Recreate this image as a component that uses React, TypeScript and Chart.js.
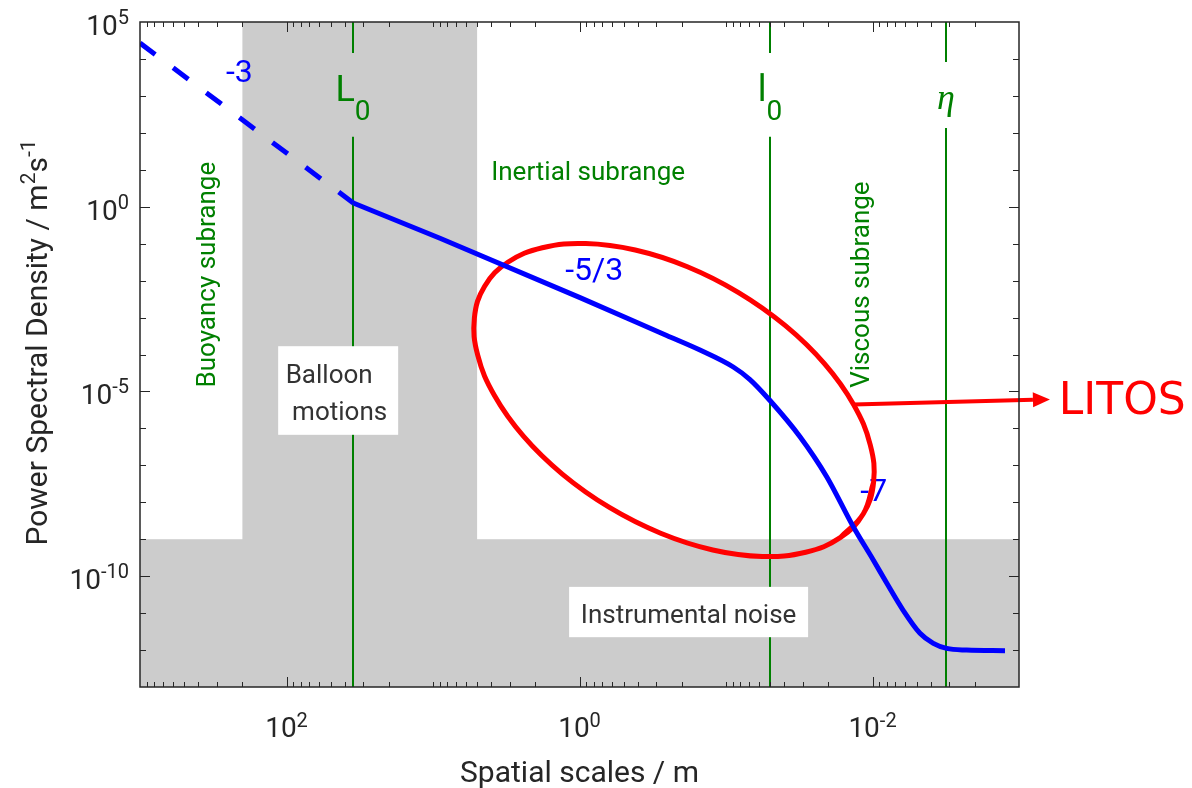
import React, { useEffect, useRef } from 'react';
import { Chart, registerables } from 'chart.js';

Chart.register(...registerables);

// ---------------- data ----------------
// spatial scale (m) / power spectral density (m^2 s^-1)
const dashedScales = [1000, 35];
const dashedPsd = [2.7e4, 1.26];

const spectrumScales = [35, 8.96, 0.992, 0.254, 0.1505, 0.0892, 0.0686, 0.0501, 0.03126, 0.02054, 0.01352, 0.00988, 0.008, 0.00619, 0.00474, 0.003846, 0.003115, 0.002275, 0.001246];
const spectrumPsd = [1.26, 0.1397, 3.47e-3, 3.27e-4, 1.32e-4, 4.59e-5, 2.1e-5, 5.69e-6, 5.96e-7, 4.92e-8, 2.18e-9, 2.74e-10, 6.53e-11, 1.21e-11, 2.84e-12, 1.52e-12, 1.11e-12, 1.0e-12, 9.6e-13];

// LITOS outline (closed loop; first/last points overlap so the loop closes smoothly)
const litosScales = [0.009826, 0.011548, 0.016617, 0.02858, 0.05656, 0.1231, 0.2794, 0.625, 1.304, 2.415, 3.806, 4.952, 5.218, 4.441, 3.086, 1.794, 0.9062, 0.4164, 0.1835, 0.08204, 0.03932, 0.02122, 0.01347, 0.01036, 0.009826, 0.011548, 0.016617];
const litosPsd = [3.52e-8, 4.89e-9, 1.1e-9, 4.44e-10, 3.42e-10, 5.12e-10, 1.45e-9, 7.23e-9, 5.69e-8, 6.14e-7, 7.73e-6, 9.55e-5, 9.77e-4, 7.05e-3, 0.03133, 0.07762, 0.1007, 0.0673, 0.02377, 4.76e-3, 6.05e-4, 5.6e-5, 4.45e-6, 3.6e-7, 3.52e-8, 4.89e-9, 1.1e-9];

// shaded regions
const balloonBand = [200, 5]; // m
const noiseBandTop = 1e-9; // PSD

// characteristic scales
const markerScales = [35, 0.05, 0.00316];
const markerNames = ['L', 'l', 'η'];
const markerSubs = ['0', '0', ''];

// axis limits & tick labels
const xRange = [1e-3, 1e3];
const yRange = [1e-13, 1e5];
const xTickValues = [1e2, 1e0, 1e-2];
const xTickExps = ['2', '0', '-2'];
const yTickValues = [1e5, 1e0, 1e-5, 1e-10];
const yTickExps = ['5', '0', '-5', '-10'];
const xTitle = 'Spatial scales / m';

// ---------------- annotation placement (data coordinates) ----------------
const slopeNotes = [
  { text: '-3', x: 210, y: 2.43e3 },
  { text: '-5/3', x: 0.794, y: 0.01064 },
  { text: '-7', x: 9.8e-3, y: 1.08e-8 },
];
const markerLabelY = [710, 710, 436];
const markerGapTop = [1.45e4, 1.45e4, 8.3e3];
const markerGapBottom = [78, 78, 136];
const arrowStart = { x: 0.01347, y: 4.45e-6 };
const arrowTip = { x: 6.15e-4, y: 6.08e-6 };
const litosLabel = { x: 5.35e-4, y: 2.4e-6 };

const FONT = 'Roboto, "Noto Sans", sans-serif';
const GREEN = '#008000';
const AXIS = '#262626';
const BLUE = '#0000ff';
const RED = '#ff0000';

type Part = { t: string; size: number; rise: number; family?: string; style?: string };

function drawRich(ctx: CanvasRenderingContext2D, parts: Part[], x: number, y: number, align: 'left' | 'center' | 'right', color: string) {
  const fontOf = (p: Part) => `${p.style ? p.style + ' ' : ''}${p.size}px ${p.family || FONT}`;
  const widths = parts.map((p) => {
    ctx.font = fontOf(p);
    return ctx.measureText(p.t).width;
  });
  const total = widths.reduce((a, b) => a + b, 0);
  let cx = align === 'left' ? x : align === 'center' ? x - total / 2 : x - total;
  ctx.fillStyle = color;
  ctx.textAlign = 'left';
  ctx.textBaseline = 'alphabetic';
  parts.forEach((p, i) => {
    ctx.font = fontOf(p);
    ctx.fillText(p.t, cx, y - p.rise);
    cx += widths[i];
  });
}

const decorPlugin = {
  id: 'decor',
  beforeDatasetsDraw(chart: any) {
    const { ctx, chartArea: a } = chart;
    const xs = chart.scales.x;
    const ys = chart.scales.y;
    const X = (v: number) => xs.getPixelForValue(v);
    const Y = (v: number) => ys.getPixelForValue(v);
    ctx.save();
    ctx.beginPath();
    ctx.rect(a.left, a.top, a.right - a.left, a.bottom - a.top);
    ctx.clip();

    // shaded regions
    ctx.fillStyle = '#cccccc';
    const b1 = X(balloonBand[0]);
    const b2 = X(balloonBand[1]);
    ctx.fillRect(b1, a.top, b2 - b1, a.bottom - a.top);
    const ny = Y(noiseBandTop);
    ctx.fillRect(a.left, ny, a.right - a.left, a.bottom - ny);

    // characteristic scale lines
    ctx.strokeStyle = GREEN;
    ctx.lineWidth = 2;
    markerScales.forEach((v, i) => {
      const px = Math.round(X(v));
      ctx.beginPath();
      ctx.moveTo(px, a.top);
      ctx.lineTo(px, Y(markerGapTop[i]));
      ctx.moveTo(px, Y(markerGapBottom[i]));
      ctx.lineTo(px, a.bottom);
      ctx.stroke();
      const parts: Part[] =
        markerSubs[i] !== ''
          ? [
              { t: markerNames[i], size: 36, rise: 0 },
              { t: markerSubs[i], size: 28, rise: -19 },
            ]
          : [{ t: markerNames[i], size: 36, rise: 0, family: '"Liberation Serif", "DejaVu Serif", serif', style: 'italic' }];
      drawRich(ctx, parts, px, Y(markerLabelY[i]), 'center', GREEN);
    });

    // regime labels
    ctx.fillStyle = GREEN;
    ctx.font = `26px ${FONT}`;
    ctx.textAlign = 'center';
    ctx.textBaseline = 'alphabetic';
    ctx.fillText('Inertial subrange', X(0.873), Y(5.37));
    const rotated = (text: string, xv: number, yv: number) => {
      ctx.save();
      ctx.translate(X(xv), Y(yv));
      ctx.rotate(-Math.PI / 2);
      ctx.fillText(text, 0, 0);
      ctx.restore();
    };
    rotated('Buoyancy subrange', 307, 0.0145);
    rotated('Viscous subrange', 0.01054, 7.8e-3);

    // boxes
    const box = (xv: number, yv: number, w: number, h: number) => {
      const cx = X(xv);
      const cy = Y(yv);
      ctx.fillStyle = '#ffffff';
      ctx.fillRect(cx - w / 2, cy - h / 2, w, h);
      return { cx, cy, left: cx - w / 2 };
    };
    const bb = box(44.4, 1.06e-5, 120, 88.6);
    ctx.fillStyle = '#333333';
    ctx.font = `26px ${FONT}`;
    ctx.textAlign = 'left';
    ctx.fillText('Balloon', bb.left + 7.5, bb.cy - 7.7);
    ctx.fillText(' motions', bb.left + 7.5, bb.cy + 29.7);
    const nb = box(0.18, 1.07e-11, 239, 50.3);
    ctx.fillStyle = '#333333';
    ctx.textAlign = 'center';
    ctx.fillText('Instrumental noise', nb.cx, nb.cy + 11);

    // slope notes
    ctx.fillStyle = BLUE;
    ctx.font = `32px ${FONT}`;
    ctx.textAlign = 'center';
    slopeNotes.forEach((n) => ctx.fillText(n.text, X(n.x), Y(n.y)));
    ctx.restore();
  },
  afterDraw(chart: any) {
    const { ctx, chartArea: a } = chart;
    const xs = chart.scales.x;
    const ys = chart.scales.y;
    const X = (v: number) => xs.getPixelForValue(v);
    const Y = (v: number) => ys.getPixelForValue(v);
    ctx.save();

    // LITOS arrow
    const sx = X(arrowStart.x), sy = Y(arrowStart.y);
    const tx = X(arrowTip.x), ty = Y(arrowTip.y);
    const ang = Math.atan2(ty - sy, tx - sx);
    const hl = 17, hw = 7.5;
    const bx = tx - hl * Math.cos(ang), by = ty - hl * Math.sin(ang);
    ctx.strokeStyle = RED;
    ctx.fillStyle = RED;
    ctx.lineWidth = 4;
    ctx.beginPath();
    ctx.moveTo(sx, sy);
    ctx.lineTo(bx, by);
    ctx.stroke();
    ctx.beginPath();
    ctx.moveTo(tx, ty);
    ctx.lineTo(bx - hw * Math.sin(ang), by + hw * Math.cos(ang));
    ctx.lineTo(bx + hw * Math.sin(ang), by - hw * Math.cos(ang));
    ctx.closePath();
    ctx.fill();
    ctx.font = '44px "DejaVu Sans", Verdana, sans-serif';
    ctx.textAlign = 'left';
    ctx.textBaseline = 'alphabetic';
    ctx.fillText('LITOS', X(litosLabel.x), Y(litosLabel.y));

    // frame
    ctx.strokeStyle = AXIS;
    ctx.lineWidth = 1.5;
    ctx.strokeRect(a.left, a.top, a.right - a.left, a.bottom - a.top);

    // ticks
    ctx.lineWidth = 1;
    const isIn = (v: number, arr: number[]) => arr.some((t) => Math.abs(Math.log10(v) - Math.log10(t)) < 1e-9);
    ctx.beginPath();
    for (let e = -3; e <= 3; e++) {
      for (let m = 1; m <= 9; m++) {
        const v = m * Math.pow(10, e);
        const p = X(v);
        if (p < a.left + 1 || p > a.right - 1) continue;
        const len = m === 1 && isIn(v, xTickValues) ? 10 : 5;
        const q = Math.round(p) + 0.5;
        ctx.moveTo(q, a.bottom);
        ctx.lineTo(q, a.bottom - len);
        ctx.moveTo(q, a.top);
        ctx.lineTo(q, a.top + len);
      }
    }
    for (let e = -13; e <= 5; e++) {
      const v = Math.pow(10, e);
      const p = Y(v);
      if (p < a.top + 1 || p > a.bottom - 1) continue;
      const len = isIn(v, yTickValues) ? 10 : 6;
      const q = Math.round(p) + 0.5;
      ctx.moveTo(a.left, q);
      ctx.lineTo(a.left + len, q);
      ctx.moveTo(a.right, q);
      ctx.lineTo(a.right - len, q);
    }
    ctx.stroke();

    // tick labels
    xTickValues.forEach((v, i) => {
      drawRich(ctx, [{ t: '10', size: 28, rise: 0 }, { t: xTickExps[i], size: 20, rise: 10 }], X(v), a.bottom + 50, 'center', AXIS);
    });
    yTickValues.forEach((v, i) => {
      drawRich(ctx, [{ t: '10', size: 28, rise: 0 }, { t: yTickExps[i], size: 20, rise: 11 }], a.left - 11, Y(v) + 13, 'right', AXIS);
    });

    // axis titles
    ctx.fillStyle = AXIS;
    ctx.font = `30px ${FONT}`;
    ctx.textAlign = 'center';
    ctx.fillText(xTitle, (a.left + a.right) / 2, a.bottom + 95);
    ctx.save();
    ctx.translate(47, (a.top + a.bottom) / 2 - 12);
    ctx.rotate(-Math.PI / 2);
    drawRich(
      ctx,
      [
        { t: 'Power Spectral Density / m', size: 30, rise: 0 },
        { t: '2', size: 21, rise: 12 },
        { t: 's', size: 30, rise: 0 },
        { t: '-1', size: 21, rise: 12 },
      ],
      0,
      0,
      'center',
      AXIS
    );
    ctx.restore();
    ctx.restore();
  },
};

export default function App() {
  const ref = useRef<HTMLCanvasElement | null>(null);
  useEffect(() => {
    document.body.style.margin = '0';
    const canvas = ref.current;
    if (!canvas) return;
    const toPts = (xs: number[], ys: number[]) => xs.map((x, i) => ({ x, y: ys[i] }));
    const chart = new Chart(canvas, {
      type: 'line',
      data: {
        datasets: [
          {
            label: 'LITOS',
            data: toPts(litosScales, litosPsd),
            borderColor: RED,
            borderWidth: 5,
            pointRadius: 0,
            tension: 0.4,
            fill: false,
            order: 2,
          },
          {
            label: 'Buoyancy (-3)',
            data: toPts(dashedScales, dashedPsd),
            borderColor: BLUE,
            borderWidth: 5,
            borderDash: [19, 22.4],
            borderCapStyle: 'butt',
            pointRadius: 0,
            fill: false,
            order: 1,
          },
          {
            label: 'Spectrum',
            data: toPts(spectrumScales, spectrumPsd),
            borderColor: BLUE,
            borderWidth: 5,
            pointRadius: 0,
            cubicInterpolationMode: 'monotone',
            fill: false,
            order: 1,
          },
        ],
      } as any,
      options: {
        responsive: false,
        animation: false,
        events: [],
        layout: { padding: { left: 140, right: 173, top: 22, bottom: 101 } },
        plugins: { legend: { display: false }, tooltip: { enabled: false } },
        scales: {
          x: { type: 'logarithmic', min: xRange[0], max: xRange[1], reverse: true, display: false },
          y: { type: 'logarithmic', min: yRange[0], max: yRange[1], display: false },
        },
      } as any,
      plugins: [decorPlugin],
    });
    return () => chart.destroy();
  }, []);
  return (
    <div style={{ width: 1192, height: 788 }}>
      <canvas ref={ref} width={1192} height={788} style={{ display: 'block' }} />
    </div>
  );
}
